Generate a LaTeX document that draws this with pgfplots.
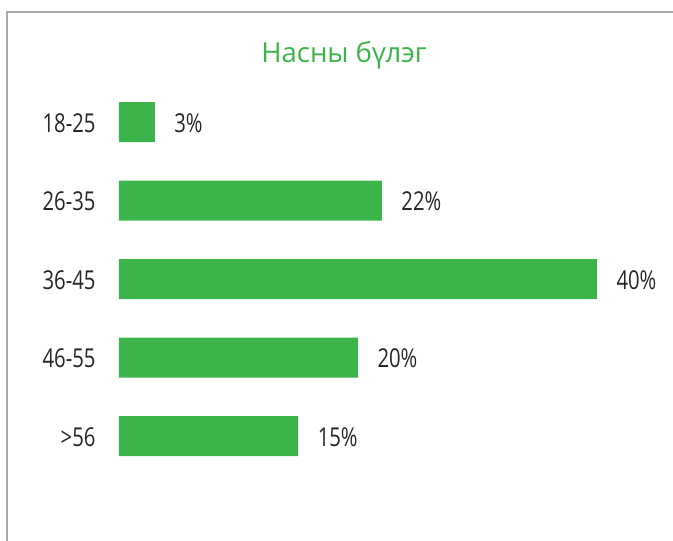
\documentclass[border=0pt]{standalone}
\usepackage{pgfplots}
\pgfplotsset{compat=1.18}
\usepackage{fontspec}
\setmainfont{Open Sans}
\newfontfamily\cond[FakeStretch=0.78]{Open Sans}
\definecolor{bargreen}{HTML}{3BB54A}
\definecolor{txt}{HTML}{262626}
\definecolor{frame}{HTML}{ABABAB}
\begin{document}
\begin{tikzpicture}
\useasboundingbox (0,0) rectangle (673pt,541pt);
\draw[frame, line width=2pt] (7pt,0pt) -- (7pt,529pt) -- (673pt,529pt);
\node[text=bargreen, font=\fontsize{27.5}{32}\selectfont, anchor=center] at (344pt,486pt) {Насны бүлэг};
\begin{axis}[
  at={(119pt,65.75pt)}, anchor=south west,
  scale only axis, width=478pt, height=392.5pt,
  xbar, bar width=40pt,
  xmin=0, xmax=40, ymin=-0.5, ymax=4.5,
  y dir=reverse,
  hide x axis,
  axis y line*=left, y axis line style={draw=none},
  major tick length=0,
  ytick={0,1,2,3,4},
  yticklabels={18-25,26-35,36-45,46-55,>56},
  yticklabel style={font=\cond\fontsize{26}{30}\selectfont, text=txt, anchor=east, xshift=-20pt, yshift=-1pt},
  point meta=explicit symbolic,
  nodes near coords,
  nodes near coords style={font=\cond\fontsize{26}{30}\selectfont, text=txt, anchor=west, xshift=16pt, yshift=-1pt},
  clip=false,
]
\addplot[fill=bargreen, draw=none] coordinates {
  (3,0) [3\%]
  (22,1) [22\%]
  (40,2) [40\%]
  (20,3) [20\%]
  (15,4) [15\%]
};
\end{axis}
\end{tikzpicture}
\end{document}
